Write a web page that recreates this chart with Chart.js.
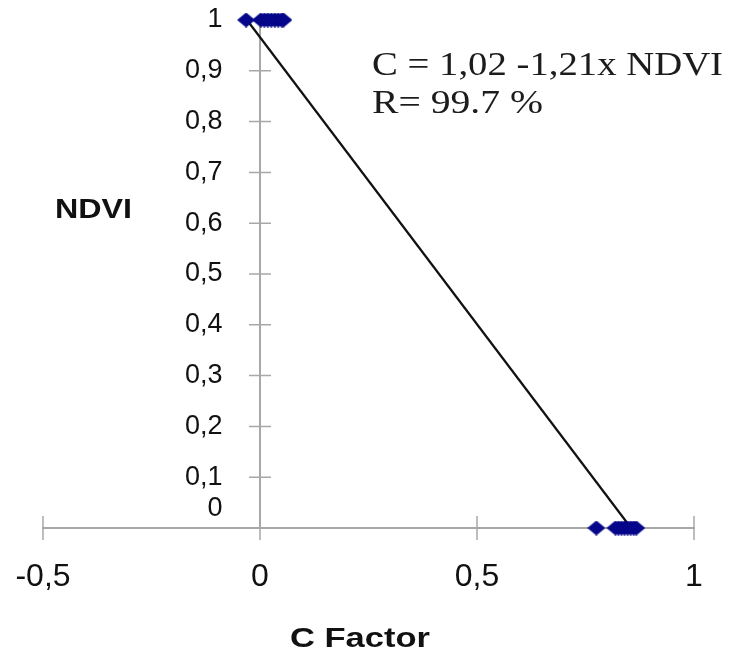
<!DOCTYPE html>
<html>
<head>
<meta charset="utf-8">
<script src="https://cdn.jsdelivr.net/npm/chart.js@4/dist/chart.umd.min.js"></script>
<style>
  html, body { margin: 0; padding: 0; background: #fff; }
  #wrap { width: 731px; height: 652px; }
</style>
</head>
<body>
<div id="wrap"><canvas id="chart" width="731" height="652"></canvas></div>
<script>
// C factor values of the sample points
const topC = [-0.032, 0.002, 0.01, 0.018, 0.026, 0.034, 0.042, 0.05, 0.054];
const topNdvi = [1, 1, 1, 1, 1, 1, 1, 1, 1];
const lowC = [0.775, 0.819, 0.826, 0.833, 0.84, 0.847, 0.854, 0.861, 0.867];
const lowNdvi = [0, 0, 0, 0, 0, 0, 0, 0, 0];

// fitted line end points
const fitC = [-0.03, 0.855];
const fitNdvi = [1, 0];

const xTickLabels = ["-0,5", "0", "0,5", "1"];
const yTickLabels = ["0", "0,1", "0,2", "0,3", "0,4", "0,5", "0,6", "0,7", "0,8", "0,9", "1"];

const eqLines = ["C = 1,02 -1,21x NDVI", "R= 99.7 %"];
const xTitle = "C Factor";
const yTitle = "NDVI";

const GAP = "     "; // y labels sit away from the centred axis

const pts = (xs, ys) => xs.map((x, i) => ({ x, y: ys[i] }));

// slightly wide diamond marker, like the spreadsheet one
function diamond(w, h, color) {
  const cv = document.createElement("canvas");
  cv.width = w;
  cv.height = h;
  const g = cv.getContext("2d");
  g.fillStyle = color;
  g.beginPath();
  g.moveTo(w / 2, 0);
  g.lineTo(w, h / 2);
  g.lineTo(w / 2, h);
  g.lineTo(0, h / 2);
  g.closePath();
  g.fill();
  return cv;
}
const marker = diamond(18, 15, "#06068a");

function fitText(ctx, text, x, y, font, width) {
  ctx.save();
  ctx.font = font;
  const w = ctx.measureText(text).width;
  ctx.translate(x, y);
  ctx.scale(width / w, 1);
  ctx.fillText(text, 0, 0);
  ctx.restore();
}

const noPad = (s) => {
  s.paddingLeft = 0;
  s.paddingRight = 0;
  s.paddingTop = 0;
  s.paddingBottom = 0;
};

const crossTicks = {
  id: "crossTicks",
  beforeDatasetsDraw(c) {
    const { ctx, scales } = c;
    const x = scales.x, y = scales.y;
    const x0 = x.getPixelForValue(0);
    const y0 = y.getPixelForValue(0);
    ctx.save();
    ctx.strokeStyle = "#a8a8a8";
    ctx.lineWidth = 1.5;
    ctx.beginPath();
    x.ticks.forEach((t, i) => {
      const px = x.getPixelForTick(i);
      ctx.moveTo(px, y0 - 12);
      ctx.lineTo(px, y0 + 12);
    });
    y.ticks.forEach((t, i) => {
      if (t.value === 0 || t.value === 1) return;
      const py = y.getPixelForTick(i);
      ctx.moveTo(x0 - 11, py);
      ctx.lineTo(x0 + 11, py);
    });
    ctx.stroke();
    ctx.restore();
  },
  afterDraw(c) {
    const { ctx } = c;
    ctx.save();
    ctx.textBaseline = "alphabetic";
    ctx.textAlign = "left";
    ctx.fillStyle = "#111";
    fitText(ctx, xTitle, 290, 647, "bold 28px 'Liberation Sans', Arial, sans-serif", 140);
    fitText(ctx, yTitle, 55, 218, "bold 28px 'Liberation Sans', Arial, sans-serif", 77);
    ctx.fillStyle = "#1c1c1c";
    fitText(ctx, eqLines[0], 372, 75, "33px 'Liberation Serif', 'Times New Roman', serif", 351);
    fitText(ctx, eqLines[1], 372, 113, "33px 'Liberation Serif', 'Times New Roman', serif", 171);
    ctx.restore();
  }
};

const pointSet = (xs, ys) => ({
  data: pts(xs, ys),
  pointStyle: marker,
  pointRadius: 9,
  clip: false,
  order: 1
});

new Chart(document.getElementById("chart"), {
  type: "scatter",
  data: {
    datasets: [
      {
        type: "line",
        data: pts(fitC, fitNdvi),
        borderColor: "#111",
        borderWidth: 2.2,
        pointRadius: 0,
        fill: false,
        clip: false,
        order: 3
      },
      pointSet(topC, topNdvi),
      pointSet(lowC, lowNdvi)
    ]
  },
  options: {
    responsive: false,
    animation: false,
    layout: { padding: { left: 43, right: 37, top: 20, bottom: 124 } },
    plugins: { legend: { display: false }, tooltip: { enabled: false } },
    scales: {
      x: {
        type: "linear",
        position: { y: 0 },
        min: -0.5,
        max: 1,
        afterFit: noPad,
        grid: { display: false, drawTicks: false },
        border: { display: true, color: "#a8a8a8", width: 2 },
        ticks: {
          stepSize: 0.5,
          autoSkip: false,
          maxRotation: 0,
          padding: 30,
          color: "#111",
          font: { family: "'Liberation Sans', Arial, sans-serif", size: 32 },
          callback: (v, i) => xTickLabels[i]
        }
      },
      y: {
        type: "linear",
        position: { x: 0 },
        min: 0,
        max: 1,
        afterFit: noPad,
        grid: { display: false, drawTicks: false },
        border: { display: true, color: "#a8a8a8", width: 2 },
        ticks: {
          stepSize: 0.1,
          autoSkip: false,
          color: "#111",
          font: { family: "'Liberation Sans', Arial, sans-serif", size: 27, lineHeight: 1.42 },
          callback: (v, i) => (i === 0 ? [yTickLabels[i] + GAP, ""] : yTickLabels[i] + GAP)
        }
      }
    }
  },
  plugins: [crossTicks]
});
</script>
</body>
</html>
